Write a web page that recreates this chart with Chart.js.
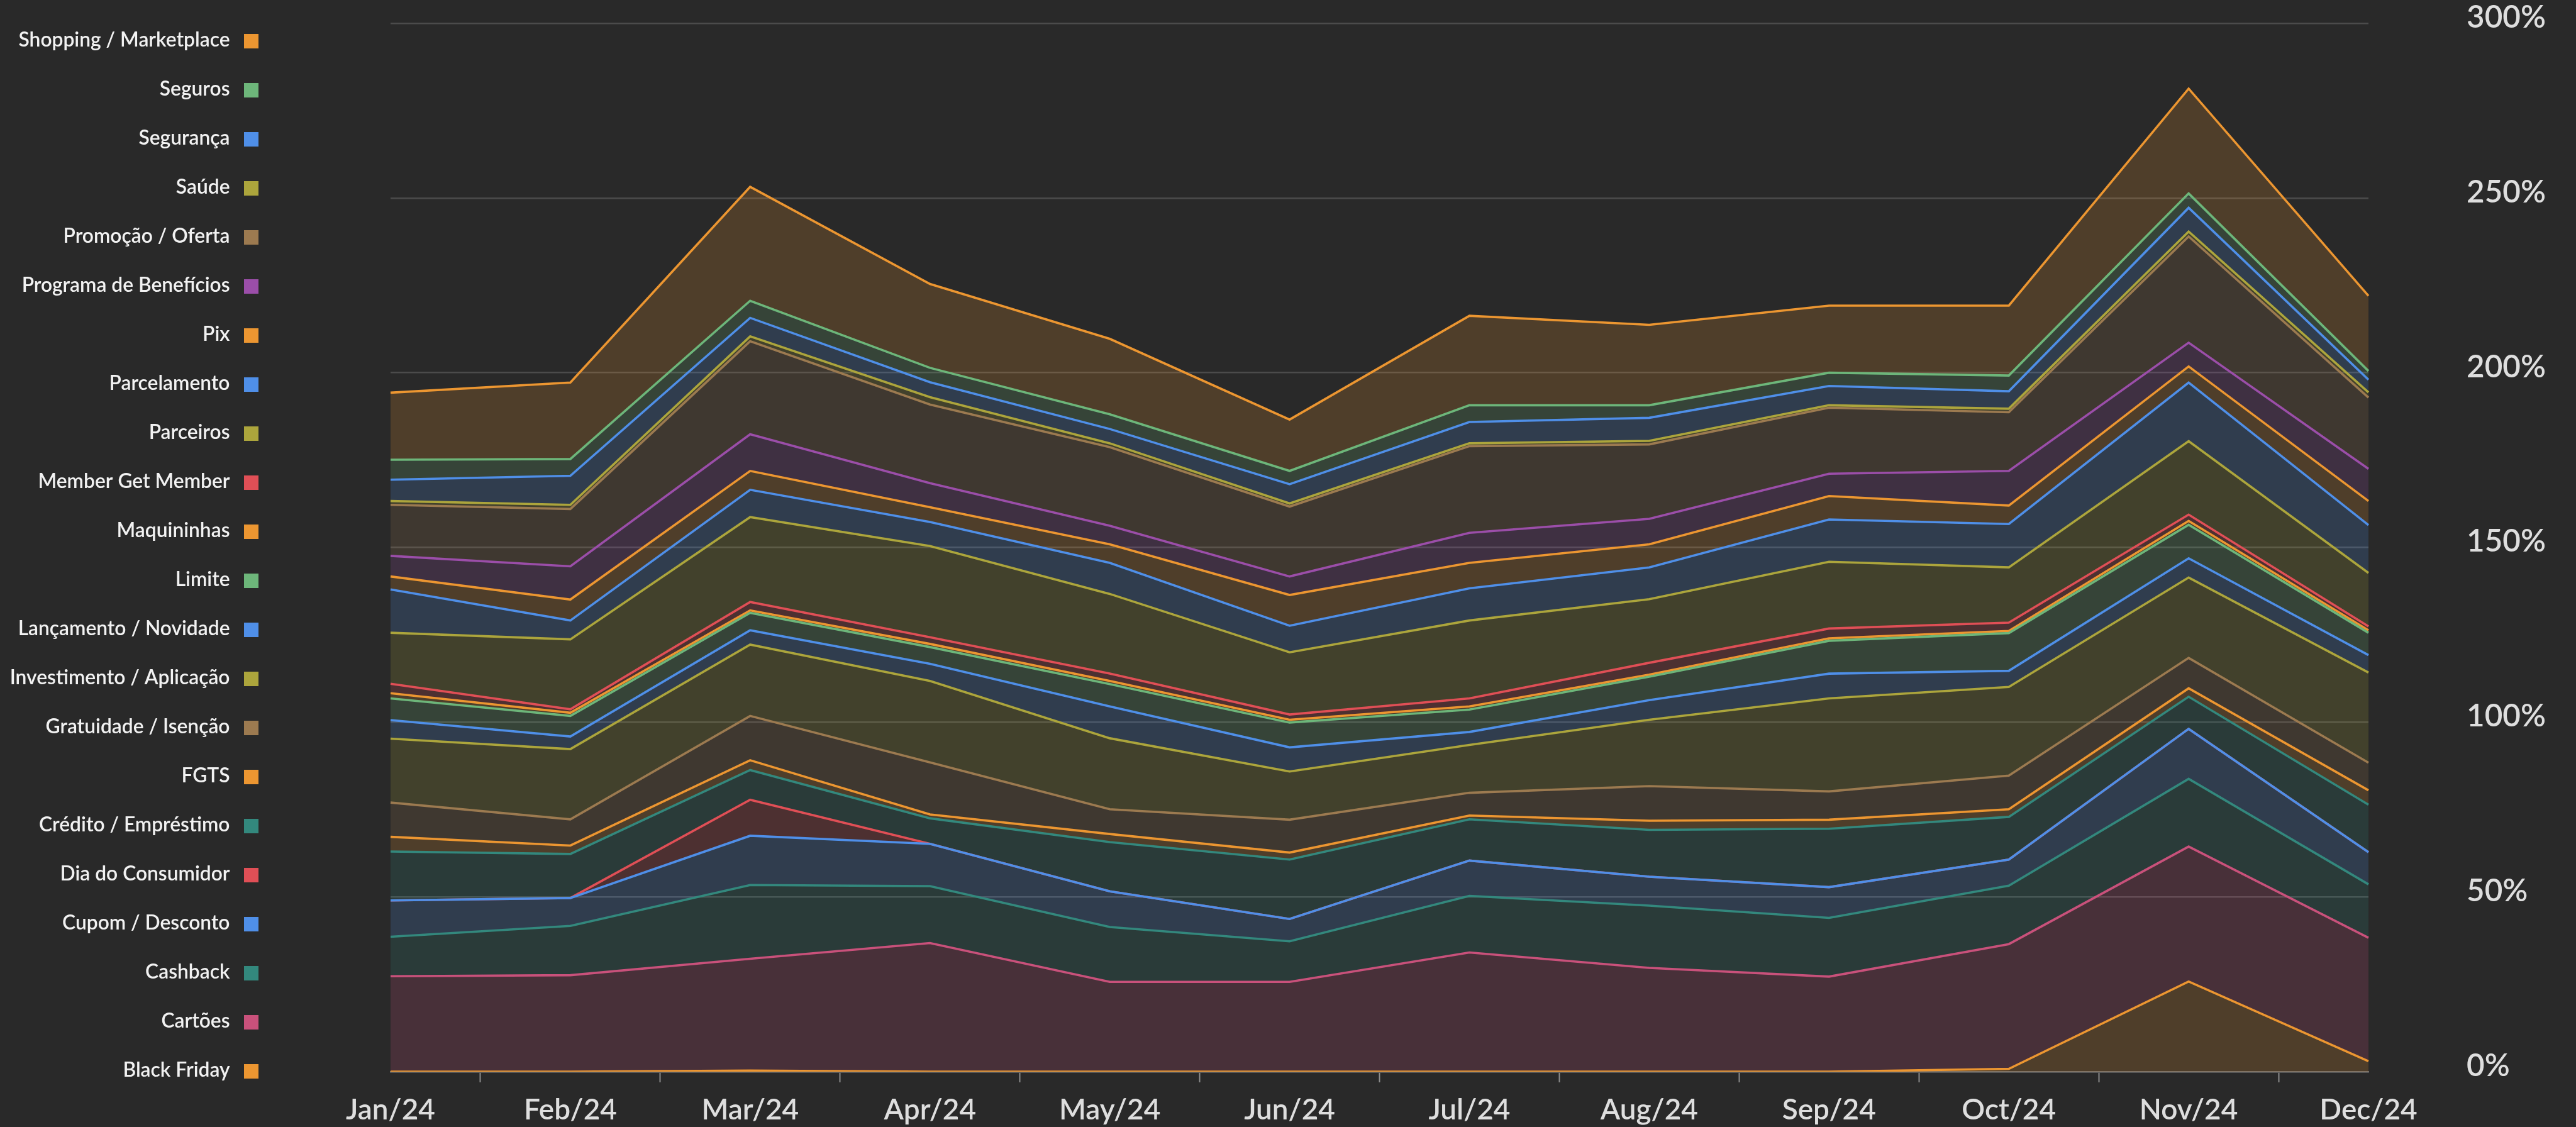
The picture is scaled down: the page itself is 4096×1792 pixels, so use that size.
<!DOCTYPE html>
<html>
<head>
<meta charset="utf-8">
<script src="https://cdn.jsdelivr.net/npm/chart.js@4.4.1/dist/chart.umd.min.js"></script>
<style>
html,body{margin:0;padding:0;background:#292929;overflow:hidden}
canvas{display:block}
</style>
</head>
<body>
<canvas id="c" width="4096" height="1792"></canvas>
<script>
// ---------- DATA ----------
const months = ['Jan/24','Feb/24','Mar/24','Apr/24','May/24','Jun/24','Jul/24','Aug/24','Sep/24','Oct/24','Nov/24','Dec/24'];
const yTickLabels = ['0%','50%','100%','150%','200%','250%','300%'];

// series listed from bottom of the stack to the top
const blackFriday        = [0, 0, 0.3, 0, 0, 0, 0, 0, 0, 0.8, 25.8, 3.0];
const cartoes            = [27.3, 27.6, 32.0, 36.8, 25.7, 25.7, 34.1, 29.7, 27.2, 35.7, 38.6, 35.3];
const cashback           = [11.3, 14.1, 21.1, 16.3, 15.7, 11.6, 16.2, 17.8, 16.8, 16.7, 19.4, 15.3];
const cupomDesconto      = [10.4, 8.0, 14.1, 12.1, 10.2, 6.4, 10.1, 8.3, 8.8, 7.5, 14.3, 9.2];
const diaDoConsumidor    = [0, 0, 10.3, 0, 0, 0, 0, 0, 0, 0, 0, 0];
const creditoEmprestimo  = [14.0, 12.6, 8.5, 7.3, 14.1, 17.0, 11.8, 13.4, 16.7, 12.2, 9.2, 13.6];
const fgts               = [4.2, 2.4, 2.8, 1.1, 2.3, 2.0, 1.1, 2.6, 2.6, 2.2, 2.4, 4.1];
const gratuidade         = [9.8, 7.5, 12.7, 14.9, 7.1, 9.4, 6.5, 9.9, 8.1, 9.6, 8.7, 7.9];
const investimento       = [18.3, 20.1, 20.4, 23.3, 20.3, 13.8, 13.7, 19.0, 26.6, 25.4, 23.0, 25.8];
const lancamento         = [5.3, 3.6, 4.1, 4.9, 9.1, 6.9, 3.7, 5.6, 7.1, 4.6, 5.5, 5.0];
const limite             = [6.2, 5.9, 5.0, 4.8, 6.4, 7.1, 6.4, 6.7, 9.4, 10.8, 9.6, 6.4];
const maquininhas        = [1.5, 0.9, 0.7, 0.9, 0.9, 0.8, 0.9, 0.6, 0.7, 0.6, 1.1, 0.7];
const memberGetMember    = [2.7, 1.0, 2.4, 1.9, 2.1, 1.5, 2.3, 3.4, 2.8, 2.4, 1.8, 1.1];
const parceiros          = [14.6, 20.0, 24.3, 26.1, 22.8, 17.8, 22.3, 18.2, 19.1, 15.8, 21.0, 15.3];
const parcelamento       = [12.4, 5.4, 7.8, 6.9, 8.9, 7.6, 9.2, 9.1, 12.1, 12.4, 16.8, 13.7];
const pix                = [3.7, 6.0, 5.4, 4.2, 5.3, 8.8, 7.3, 6.6, 6.7, 5.3, 4.6, 6.9];
const programaBeneficios = [5.9, 9.5, 10.5, 6.9, 5.3, 5.3, 8.6, 7.3, 6.4, 9.9, 6.8, 9.2];
const promocaoOferta     = [14.6, 16.4, 26.6, 22.5, 22.5, 20.0, 24.8, 21.3, 18.9, 16.8, 30.4, 20.4];
const saude              = [1.1, 1.2, 1.4, 2.1, 1.1, 0.9, 0.8, 1.0, 0.7, 1.0, 1.4, 1.5];
const seguranca          = [6.1, 8.3, 5.3, 4.3, 4.1, 5.5, 6.1, 6.6, 5.5, 5.0, 6.8, 3.6];
const seguros            = [5.7, 4.8, 4.9, 4.1, 4.2, 3.8, 4.8, 3.6, 3.8, 4.5, 4.1, 2.5];
const shopping           = [19.2, 21.9, 32.6, 24.0, 21.6, 14.7, 25.6, 23.0, 19.2, 20.0, 30.0, 21.5];

const seriesNames = ['Black Friday','Cartões','Cashback','Cupom / Desconto','Dia do Consumidor','Crédito / Empréstimo','FGTS','Gratuidade / Isenção','Investimento / Aplicação','Lançamento / Novidade','Limite','Maquininhas','Member Get Member','Parceiros','Parcelamento','Pix','Programa de Benefícios','Promoção / Oferta','Saúde','Segurança','Seguros','Shopping / Marketplace'];
const seriesValues = [blackFriday, cartoes, cashback, cupomDesconto, diaDoConsumidor, creditoEmprestimo, fgts, gratuidade, investimento, lancamento, limite, maquininhas, memberGetMember, parceiros, parcelamento, pix, programaBeneficios, promocaoOferta, saude, seguranca, seguros, shopping];

// ---------- STYLE ----------
const C = {orange:'#ec9631', green:'#6db67a', blue:'#4f8fe8', olive:'#aca53c', brown:'#9c7a50', purple:'#9b4ea9', red:'#e04f56', teal:'#33887d', pink:'#c9517b'};
const seriesColors = [C.orange, C.pink, C.teal, C.blue, C.red, C.teal, C.orange, C.brown, C.olive, C.blue, C.green, C.orange, C.red, C.olive, C.blue, C.orange, C.purple, C.brown, C.olive, C.blue, C.green, C.orange];

function hexA(hex, a){const n=parseInt(hex.slice(1),16);return `rgba(${n>>16&255},${n>>8&255},${n&255},${a})`;}

const FONT = 'Lato, "Noto Sans", sans-serif';
const mctx = document.createElement('canvas').getContext('2d');
function textW(t, size){ mctx.font = `600 ${size}px ${FONT}`; return mctx.measureText(t).width; }
const legendSize = 100 * 336 / textW('Shopping / Marketplace', 100);
let xw = 0; months.forEach(m => xw += textW(m, 100)); xw /= months.length;
const xSize = 0.5 * (100 * 154 / xw + 44.5);
const ySize = 100 * 126 / textW('300%', 100);

const LEG_TOP = 65.5, LEG_STEP = 78.0, LEG_TEXT_RIGHT = 365.5, LEG_BOX_X = 388, LEG_BOX = 23;

const sideLegend = {
  id: 'sideLegend',
  afterDraw(chart) {
    const ctx = chart.ctx;
    const ds = chart.data.datasets;
    ctx.save();
    ctx.font = `600 ${legendSize}px ${FONT}`;
    ctx.textAlign = 'right';
    ctx.textBaseline = 'middle';
    for (let k = 0; k < ds.length; k++) {
      const d = ds[ds.length - 1 - k];
      const cy = LEG_TOP + k * LEG_STEP;
      ctx.fillStyle = '#f2f2f2';
      ctx.fillText(d.label, LEG_TEXT_RIGHT, cy - 2);
      ctx.fillStyle = d.borderColor;
      ctx.fillRect(LEG_BOX_X, cy - LEG_BOX / 2, LEG_BOX, LEG_BOX);
    }
    ctx.restore();
  }
};

const datasets = seriesValues.map((vals, i) => ({
  label: seriesNames[i],
  data: vals,
  borderColor: seriesColors[i],
  backgroundColor: hexA(seriesColors[i], 0.2),
  borderWidth: 3.6,
  fill: i === 0 ? 'origin' : '-1',
  pointRadius: 0,
  tension: 0
}));

new Chart(document.getElementById('c'), {
  type: 'line',
  data: { labels: months, datasets },
  plugins: [sideLegend],
  options: {
    responsive: false,
    animation: false,
    devicePixelRatio: 1,
    layout: { padding: { left: 621, top: 37, right: 0, bottom: 0 } },
    plugins: { legend: { display: false }, tooltip: { enabled: false } },
    scales: {
      x: {
        offset: false,
        grid: { display: true, drawOnChartArea: false, drawTicks: true, tickLength: 17, tickColor: '#8c8c8c', tickWidth: 2, offset: true },
        border: { display: true, color: '#6e6e6e', width: 2.5 },
        ticks: { color: '#dedede', font: { family: FONT, weight: '600', size: xSize, lineHeight: 1 }, padding: 61 - 17 - xSize / 2, maxRotation: 0, autoSkip: false },
        afterFit(s) { s.height = 88; }
      },
      y: {
        position: 'right',
        stacked: true,
        min: 0, max: 300,
        ticks: { stepSize: 50, callback: (v, i) => yTickLabels[i], padding: 6, labelOffset: -9, color: '#dedede', font: { family: FONT, weight: '600', size: ySize } },
        grid: { color: '#4b4b4b', lineWidth: 2.5, drawTicks: true, tickLength: 150, tickColor: 'rgba(0,0,0,0)' },
        border: { display: false },
        afterFit(s) { s.width = 330; s.paddingTop = 0; s.paddingBottom = 0; }
      }
    }
  }
});
</script>
</body>
</html>
